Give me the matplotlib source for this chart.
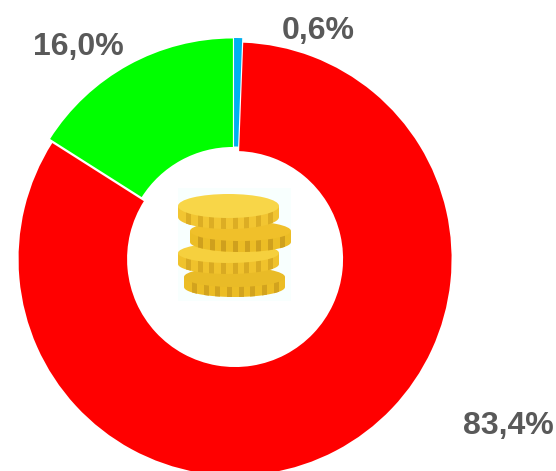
import matplotlib
matplotlib.use("Agg")
import matplotlib.pyplot as plt
from matplotlib.patches import Ellipse, Polygon, Rectangle
import numpy as np

# values clockwise from 12 o'clock
shares = [0.6, 83.4, 16.0]
labels = ["0,6%", "83,4%", "16,0%"]
colors = ["#00b0f0", "#ff0000", "#00ff00"]
label_pos = [(318, 31), (508, 426), (78, 47)]

W, H = 556, 471


def Y(y):
    return H - y


def coin(ax, cx, cy, rx, ry, h, top, side, dark):
    t = np.linspace(np.pi, 2 * np.pi, 60)
    xs = cx + rx * np.cos(t)
    ys = Y(cy + h) + ry * np.sin(t)
    pts = [(cx - rx, Y(cy))] + list(zip(xs, ys)) + [(cx + rx, Y(cy))]
    body = Polygon(pts, closed=True, fc=side, ec="none", zorder=5)
    ax.add_patch(body)
    # ridges round the edge
    for sx in np.arange(cx - rx + 8, cx + rx - 6, 11.7):
        r = Rectangle((sx, Y(cy + h + ry + 1)), 5, h + ry + 2, fc=dark, ec="none", zorder=5)
        ax.add_patch(r)
        r.set_clip_path(body)
    ax.add_patch(Ellipse((cx, Y(cy)), 2 * rx, 2 * ry, fc=top, ec="none", zorder=5))


fig = plt.figure(figsize=(W / 100, H / 100), dpi=100)
ax = fig.add_axes([0, 0, 1, 1])

# slices sit slightly apart (explode is in pixels here)
ax.pie(shares, colors=colors, startangle=90, counterclock=False,
       explode=[2.5, 2.3, 2.3],
       center=(234, Y(257)), radius=216.5, frame=False,
       wedgeprops=dict(width=108.5, edgecolor="none", linewidth=0))
ax.set_xlim(0, W)
ax.set_ylim(0, H)
ax.set_aspect("equal")
ax.axis("off")

for lab, (x, y) in zip(labels, label_pos):
    ax.text(x, Y(y), lab, ha="center", va="center", fontsize=23, fontweight="bold",
            family="Liberation Sans", color="#595959")

# coin stack in the hole
ax.add_patch(Rectangle((178, Y(301)), 113, 113, fc="#f8fffe", ec="none", zorder=4))
coin(ax, 234.5, 277, 50.5, 10, 10, "#e9bb27", "#ecbd25", "#d2a31e")
coin(ax, 228.5, 253, 50.5, 10, 11, "#f6d03e", "#f0c22c", "#d9aa22")
coin(ax, 240.5, 231, 50.5, 10, 11, "#f0c02a", "#ecbd25", "#cfa01d")
coin(ax, 228.5, 206, 50.5, 12, 11, "#f8d648", "#f2c531", "#dcad24")

fig.savefig("out.png", dpi=100)
